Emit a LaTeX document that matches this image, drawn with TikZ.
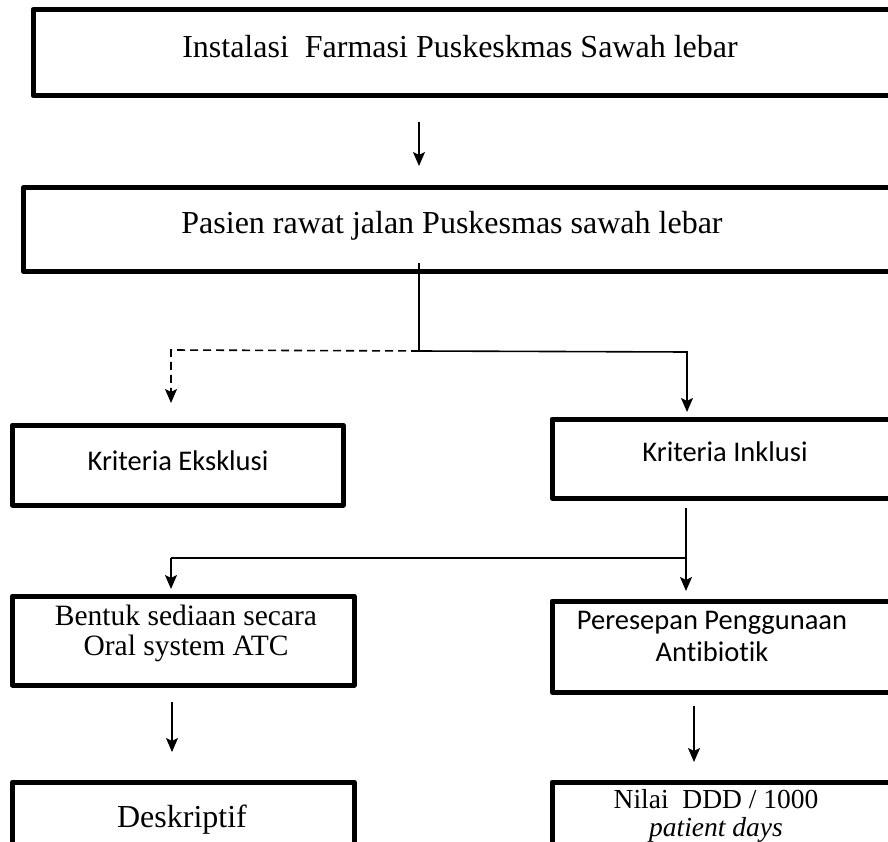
\documentclass[tikz,border=0pt]{standalone}
\usepackage{fontspec}
\setmainfont{Liberation Serif}
\newfontfamily\calfont[Ligatures=NoCommon]{Carlito}
\usetikzlibrary{arrows.meta}
\begin{document}
\begin{tikzpicture}[x=1pt,y=-1pt,
  boxline/.style={line width=5pt,line join=round},
  conn/.style={line width=1.6pt},
  tip/.style={-{Stealth[length=14pt,width=12pt,inset=3pt]}},
  arr/.style={conn,tip},
  dconn/.style={conn,dash pattern=on 8pt off 5pt},
  serif32/.style={font=\fontsize{32}{36}\selectfont},
  serif30/.style={font=\fontsize{29.5}{30}\selectfont,align=center},
  serif27/.style={font=\fontsize{27.5}{28}\selectfont,align=center},
  sans28/.style={font=\calfont\fontsize{28.5}{32}\selectfont,align=center},
]
\useasboundingbox (0,0) rectangle (888,842);
\clip (0,0) rectangle (888,842);
\fill[white] (0,0) rectangle (888,842);

% boxes
\draw[boxline] (33,9.5) rectangle (900,95.5);
\draw[boxline] (23,188) rectangle (900,271);
\draw[boxline] (12.5,425) rectangle (343,505);
\draw[boxline] (552,419) rectangle (900,498);
\draw[boxline] (12.5,596) rectangle (354,685);
\draw[boxline] (552,601) rectangle (900,692);
\draw[boxline] (12.5,782) rectangle (354,860);
\draw[boxline] (552,782) rectangle (900,860);

% texts
\node[serif32] (t1) at (460,47) {Instalasi\ \ Farmasi Puskeskmas Sawah lebar};
\node[serif32] (t2) at (452,226) {Pasien rawat jalan Puskesmas sawah lebar};
\node[sans28] (eks) at (178,461) {Kriteria Eksklusi};
\node[sans28] (ink) at (725,452) {Kriteria Inklusi};
\node[serif30] (bent) at (186,633) {Bentuk sediaan secara\\Oral system ATC};
\node[sans28] (pers) at (712,636) {Peresepan Penggunaan\\Antibiotik};
\node[serif32] (desk) at (182,820) {Deskriptif};
\node[serif27] (nil) at (716,816) {Nilai\ \ DDD / 1000\\\textit{patient days}};

% connector points
\coordinate (a1) at (419,122);
\coordinate (a1e) at (419,166);
\coordinate (tr0) at (419,263);
\coordinate (tr1) at (419,351);
\coordinate (dl) at (171,350);
\coordinate (dle) at (171,403);
\coordinate (sr) at (687,352);
\coordinate (sre) at (687,412);
\coordinate (i0) at (686,508);
\coordinate (i1) at (686,558);
\coordinate (ie) at (686,591);
\coordinate (l1) at (171,558);
\coordinate (le) at (171,589);
\coordinate (b0) at (172,702);
\coordinate (be) at (172,752);
\coordinate (p0) at (694,706);
\coordinate (pe) at (694,762);

\draw[arr] (a1) -- (a1e);
\draw[conn] (tr0) -- (tr1);
\draw[dconn,tip] (tr1) -- (dl) -- (dle);
\draw[arr] (tr1) -- (sr) -- (sre);
\draw[arr] (i0) -- (ie);
\draw[conn] (i1) -- (l1);
\draw[arr] (l1) -- (le);
\draw[arr] (b0) -- (be);
\draw[arr] (p0) -- (pe);
\end{tikzpicture}
\end{document}
